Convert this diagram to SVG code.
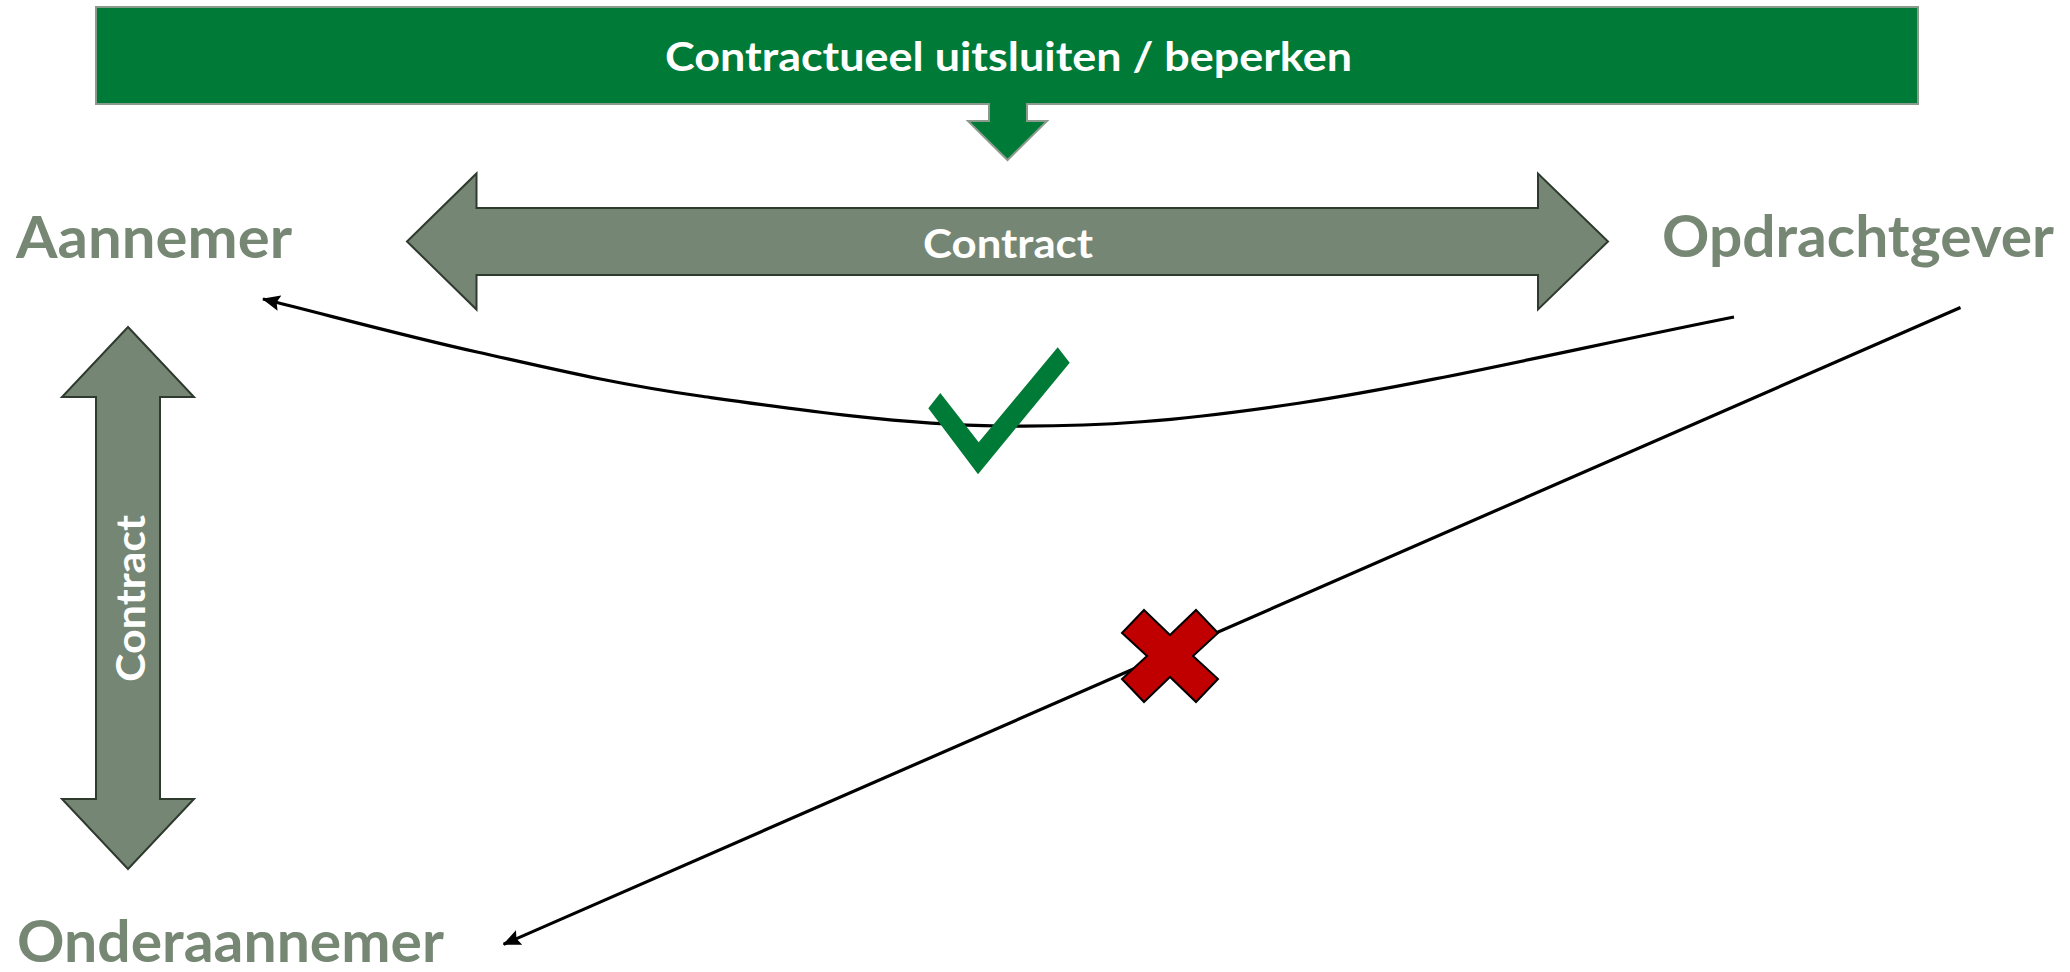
<svg xmlns="http://www.w3.org/2000/svg" width="2070" height="972" viewBox="0 0 2070 972">
<defs>
<style>
.lbl{font-family:Lato,"Open Sans","Liberation Sans",sans-serif;font-weight:bold;fill:#768874;font-size:58px}
.wt{font-family:Lato,"Open Sans","Liberation Sans",sans-serif;font-weight:bold;fill:#ffffff;font-size:40px}
.garrow{fill:#758774;stroke:#2e3a2e;stroke-width:2}
.conn{fill:none;stroke:#000000;stroke-width:3.2}
</style>
<marker id="ah" markerUnits="userSpaceOnUse" markerWidth="18" markerHeight="16" viewBox="0 0 18 16" refX="17" refY="8" orient="auto">
<path d="M0,0 L18,8 L0,16 L3,8 Z" fill="#000000"/>
</marker>
</defs>
<rect width="2070" height="972" fill="#ffffff"/>

<g id="banner">
<path d="M96,7 H1918 V104 H1027 V121 H1047 L1007.5,160 L968,121 H989 V104 H96 Z" fill="#007a37" stroke="#8a9a8c" stroke-width="2"/>
<text class="wt" x="1008.5" y="71" text-anchor="middle" font-size="41" textLength="687" lengthAdjust="spacingAndGlyphs">Contractueel uitsluiten / beperken</text>
</g>

<g id="contract-h">
<polygon class="garrow" points="407,241.5 476.5,173.5 476.5,208 1538,208 1538,173.5 1608,241.5 1538,309.5 1538,275 476.5,275 476.5,309.5"/>
<text class="wt" x="1008" y="258" text-anchor="middle" textLength="170" lengthAdjust="spacingAndGlyphs">Contract</text>
</g>

<g id="contract-v">
<polygon class="garrow" points="128,327 194,397 160,397 160,799 194,799 128,869 62,799 96,799 96,397 62,397"/>
<text class="wt" transform="translate(145,598.5) rotate(-90)" x="0" y="0" text-anchor="middle" textLength="167" lengthAdjust="spacingAndGlyphs">Contract</text>
</g>

<g id="aannemer"><text class="lbl" x="16" y="258" textLength="276" lengthAdjust="spacingAndGlyphs">Aannemer</text></g>
<g id="opdrachtgever"><text class="lbl" x="1662" y="257" textLength="392" lengthAdjust="spacingAndGlyphs">Opdrachtgever</text></g>
<g id="onderaannemer"><text class="lbl" x="17" y="962" textLength="427" lengthAdjust="spacingAndGlyphs">Onderaannemer</text></g>

<g id="connectors">
<path class="conn" marker-end="url(#ah)" d="M1734,317 C1589.3,345.7 1422.3,384.8 1300,403 C1177.7,421.2 1100,427.2 1000,426 C900,424.8 787.2,408.3 700,396 C612.8,383.7 549.8,368.2 477,352 C404.2,335.8 334.3,316.7 263,299"/>
<path class="conn" marker-end="url(#ah)" d="M1960.5,307.5 L503.6,944.3"/>
</g>

<g id="check">
<polygon points="928.3,408.3 978,474.3 1069.7,362.7 1057.7,347.3 978.7,442.3 940.3,393" fill="#007a37"/>
</g>

<g id="cross">
<polygon points="1144,610 1170,635 1196,610 1218,633 1193,656 1218,679 1196,702 1170,677 1144,702 1122,679 1147,656 1122,633" fill="#c00000" stroke="#000000" stroke-width="2"/>
</g>
</svg>
